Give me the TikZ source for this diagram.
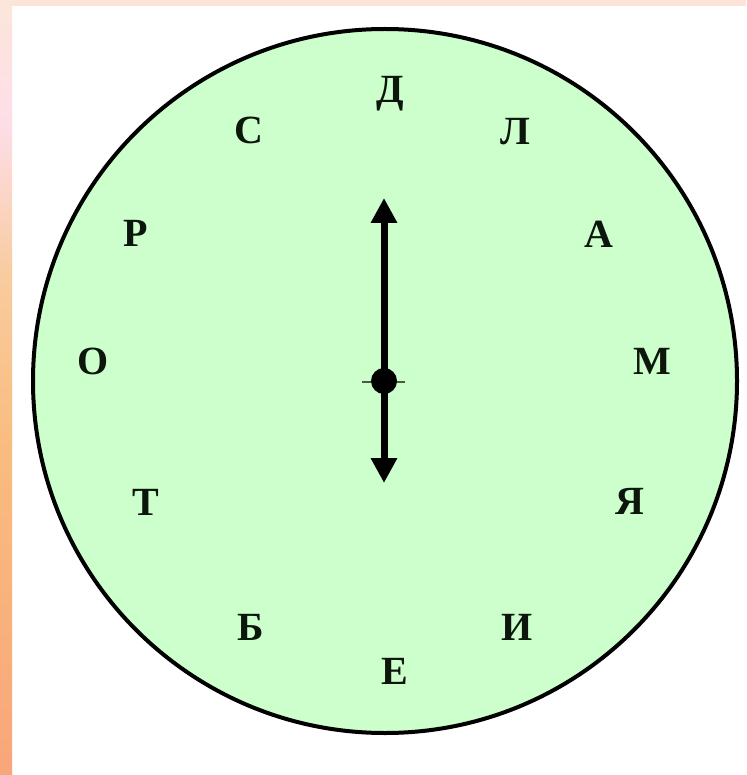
\documentclass[tikz,border=0pt]{standalone}
\usepackage{fontspec}
\setmainfont{Liberation Serif}
\usetikzlibrary{arrows.meta}
\definecolor{facegreen}{RGB}{204,255,204}
\definecolor{inkcol}{RGB}{12,22,12}
\definecolor{stripTop}{RGB}{252,229,216}
\pgfdeclareverticalshading{sidestrip}{100bp}{%
  color(0bp)=(rgb,255:red,249;green,166;blue,122);
  color(25bp)=(rgb,255:red,249;green,166;blue,122);
  color(46bp)=(rgb,255:red,249;green,188;blue,126);
  color(57bp)=(rgb,255:red,249;green,203;blue,158);
  color(67bp)=(rgb,255:red,253;green,222;blue,232);
  color(75bp)=(rgb,255:red,252;green,230;blue,218);
  color(100bp)=(rgb,255:red,252;green,230;blue,218)}
\tikzset{
  letter/.style={font=\fontsize{40}{40}\selectfont\bfseries, text=inkcol, anchor=base, inner sep=0pt},
  hand/.style={line width=7pt, draw=black, -{Triangle[width=25pt,length=25pt]}}
}
\begin{document}
\begin{tikzpicture}[x=1pt,y=-1pt]
\useasboundingbox (0,0) rectangle (746,775);
\fill[white] (0,0) rectangle (746,775);
\fill[stripTop] (0,0) rectangle (746,6);
\shade[shading=sidestrip] (0,0) rectangle (12,775);
% dial
\node[circle, minimum size=704pt, draw=black, line width=4pt, fill=facegreen, inner sep=0pt] (dial) at (385,381) {};
% letters
\node[letter] (d) at (390,103) {Д};
\node[letter] (l) at (515,145) {Л};
\node[letter] (a) at (599,248) {А};
\node[letter] (m) at (652,374) {М};
\node[letter] (ya) at (630,514) {Я};
\node[letter] (i) at (517,640) {И};
\node[letter] (e) at (395,684) {Е};
\node[letter] (b) at (251,640) {Б};
\node[letter] (t) at (146,515) {Т};
\node[letter] (o) at (93,374) {О};
\node[letter] (r) at (136,247) {Р};
\node[letter] (s) at (249,144) {С};
% hands
\coordinate (c) at (384,381);
\coordinate (up) at (384,198);
\coordinate (down) at (384,483);
\coordinate (tl) at (362,382);
\coordinate (tr) at (405,382);
\draw[hand] (c) -- (up);
\draw[hand] (c) -- (down);
\draw[line width=1.2pt, draw=inkcol!70!facegreen] (tl) -- (tr);
\fill[black] (c) circle[radius=13pt];
\end{tikzpicture}
\end{document}
